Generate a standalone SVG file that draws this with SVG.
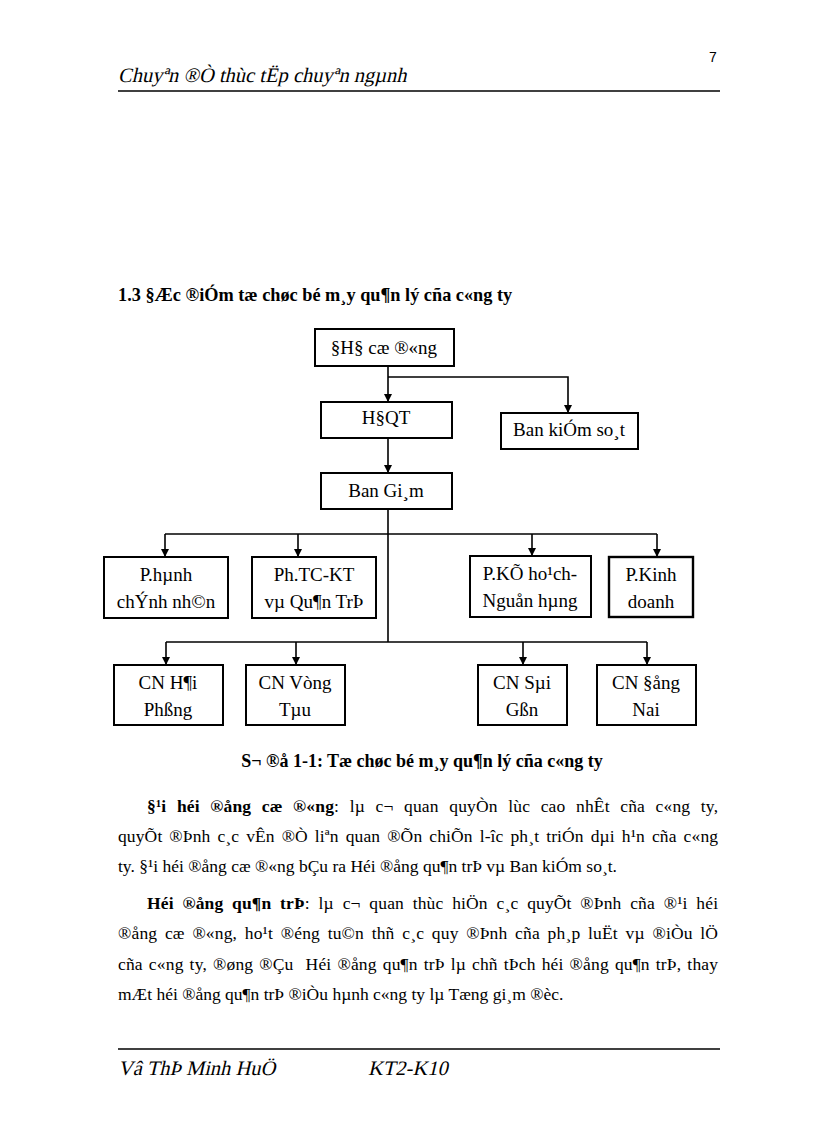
<svg xmlns="http://www.w3.org/2000/svg" width="816" height="1123" viewBox="0 0 816 1123">
<style>
text{font-family:"Liberation Serif","Times New Roman",serif;fill:#000}
.box rect{fill:#fff;stroke:#000;stroke-width:2}
.box text{font-size:19px;text-anchor:middle}
.conn line,.conn polyline{stroke:#000;stroke-width:1.6;fill:none}
.body{font-size:17.5px}
.hdr{font-family:"Liberation Serif","Times New Roman",serif;font-size:20.5px}
</style>
<defs>
<marker id="ah" viewBox="0 0 10 10" refX="10" refY="5" markerWidth="8" markerHeight="8" markerUnits="userSpaceOnUse" orient="auto">
<path d="M0,0 L10,5 L0,10 z" fill="#000"/>
</marker>
</defs>
<rect width="816" height="1123" fill="#fff"/>
<g id="header">
<text x="709" y="62" style="font-family:'Liberation Sans',Arial,sans-serif;font-size:14px">7</text>
<text transform="translate(118,82) skewX(-13)" class="hdr">Chuyªn ®Ò thùc tËp chuyªn ngµnh</text>
<line x1="118" y1="91" x2="720" y2="91" stroke="#000" stroke-width="1.5"/>
</g>
<text id="title" x="118" y="301" style="font-size:18.3px;font-weight:bold">1.3 §Æc ®iÓm tæ chøc bé m¸y qu¶n lý cña c«ng ty</text>
<g class="conn">
<line x1="388" y1="366" x2="388" y2="402" marker-end="url(#ah)"/>
<polyline points="388,377 568,377 568,413" marker-end="url(#ah)"/>
<line x1="388" y1="438" x2="388" y2="473" marker-end="url(#ah)"/>
<line x1="388" y1="509" x2="388" y2="642"/>
<line x1="165" y1="534" x2="657" y2="534"/>
<line x1="165" y1="534" x2="165" y2="557" marker-end="url(#ah)"/>
<line x1="298" y1="534" x2="298" y2="557" marker-end="url(#ah)"/>
<line x1="532" y1="534" x2="532" y2="556" marker-end="url(#ah)"/>
<line x1="657" y1="534" x2="657" y2="557" marker-end="url(#ah)"/>
<line x1="166" y1="642" x2="647" y2="642"/>
<line x1="166" y1="642" x2="166" y2="665" marker-end="url(#ah)"/>
<line x1="296" y1="642" x2="296" y2="665" marker-end="url(#ah)"/>
<line x1="523" y1="642" x2="523" y2="665" marker-end="url(#ah)"/>
<line x1="647" y1="642" x2="647" y2="665" marker-end="url(#ah)"/>
</g>
<g id="dhdcd" class="box"><rect x="315" y="329" width="139" height="37"/><text x="384" y="354">§H§ cæ ®«ng</text></g>
<g id="hdqt" class="box"><rect x="321" y="402" width="131" height="36"/><text x="386" y="424">H§QT</text></g>
<g id="bks" class="box"><rect x="501" y="413" width="137" height="36"/><text x="569" y="436">Ban kiÓm so¸t</text></g>
<g id="bgd" class="box"><rect x="321" y="473" width="131" height="36"/><text x="386" y="497">Ban Gi¸m</text></g>
<g id="phcnn" class="box"><rect x="104" y="557" width="124" height="61"/><text x="166" y="581">P.hµnh</text><text x="166" y="608">chÝnh nh©n</text></g>
<g id="phtc" class="box"><rect x="252" y="557" width="124" height="61"/><text x="314" y="581">Ph.TC-KT</text><text x="314" y="608">vµ Qu¶n TrÞ</text></g>
<g id="pkh" class="box"><rect x="470" y="556" width="121" height="61"/><text x="530" y="580">P.KÕ ho¹ch-</text><text x="530" y="607">Nguån hµng</text></g>
<g id="pkd" class="box"><rect x="609" y="557" width="84" height="60" style="stroke-width:2.4"/><text x="651" y="581">P.Kinh</text><text x="651" y="608">doanh</text></g>
<g id="cnhp" class="box"><rect x="114" y="665" width="109" height="60"/><text x="168" y="689">CN H¶i</text><text x="168" y="716">Phßng</text></g>
<g id="cnvt" class="box"><rect x="246" y="665" width="99" height="60"/><text x="295" y="689">CN Vòng</text><text x="295" y="716">Tµu</text></g>
<g id="cnsg" class="box"><rect x="478" y="665" width="89" height="60"/><text x="522" y="689">CN Sµi</text><text x="522" y="716">Gßn</text></g>
<g id="cndn" class="box"><rect x="597" y="665" width="99" height="60"/><text x="646" y="689">CN §ång</text><text x="646" y="716">Nai</text></g>
<text id="caption" x="422" y="767" text-anchor="middle" style="font-size:18px;font-weight:bold">S¬ ®å 1-1: Tæ chøc bé m¸y qu¶n lý cña c«ng ty</text>
<g id="body" class="body">
<text x="147" y="812" word-spacing="6" textLength="571" lengthAdjust="spacing"><tspan font-weight="bold">§¹i héi ®ång cæ ®«ng</tspan>: lµ c¬ quan quyÒn lùc cao nhÊt cña c«ng ty,</text>
<text x="118" y="842" word-spacing="2.5" textLength="600" lengthAdjust="spacing">quyÕt ®Þnh c¸c vÊn ®Ò liªn quan ®Õn chiÕn l-îc ph¸t triÓn dµi h¹n cña c«ng</text>
<text x="118" y="872">ty. §¹i héi ®ång cæ ®«ng bÇu ra Héi ®ång qu¶n trÞ vµ Ban kiÓm so¸t.</text>
<text x="147" y="909" word-spacing="4.3" textLength="571" lengthAdjust="spacing"><tspan font-weight="bold">Héi ®ång qu¶n trÞ</tspan>: lµ c¬ quan thùc hiÖn c¸c quyÕt ®Þnh cña ®¹i héi</text>
<text x="118" y="939" word-spacing="3.2" textLength="600" lengthAdjust="spacing">®ång cæ ®«ng, ho¹t ®éng tu©n thñ c¸c quy ®Þnh cña ph¸p luËt vµ ®iÒu lÖ</text>
<text x="118" y="970" word-spacing="1.5" textLength="600" lengthAdjust="spacing" xml:space="preserve">cña c«ng ty, ®øng ®Çu  Héi ®ång qu¶n trÞ lµ chñ tÞch héi ®ång qu¶n trÞ, thay</text>
<text x="118" y="1000">mÆt héi ®ång qu¶n trÞ ®iÒu hµnh c«ng ty lµ Tæng gi¸m ®èc.</text>
</g>
<g id="footer">
<line x1="118" y1="1049" x2="720" y2="1049" stroke="#000" stroke-width="1.5"/>
<text transform="translate(118,1075) skewX(-13)" class="hdr">Vâ ThÞ Minh HuÖ</text>
<text transform="translate(368,1075) skewX(-13)" class="hdr">KT2-K10</text>
</g>
</svg>
